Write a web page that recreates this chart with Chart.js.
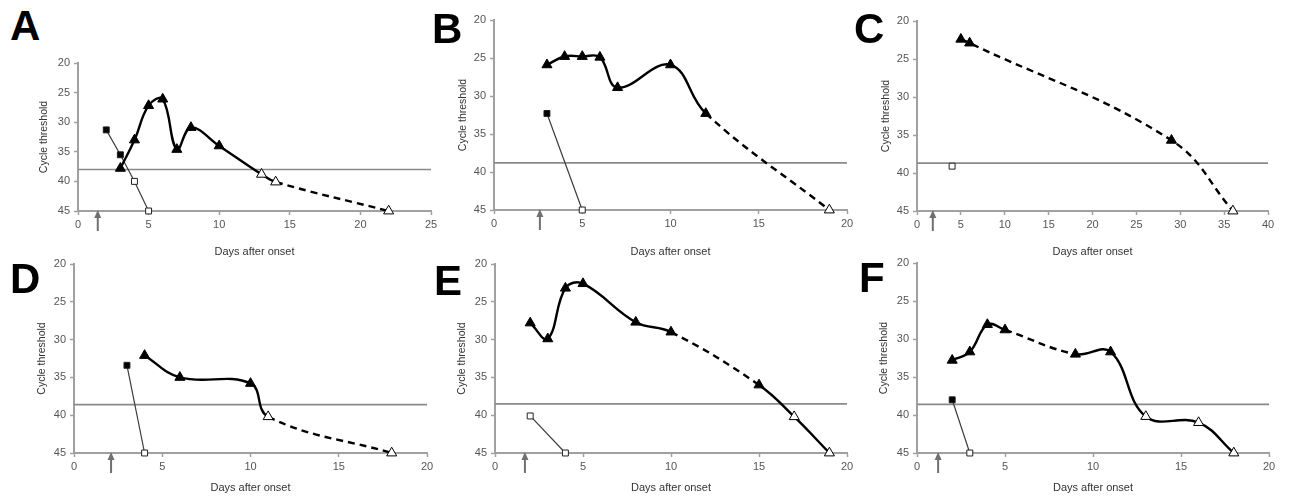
<!DOCTYPE html>
<html>
<head>
<meta charset="utf-8">
<script src="https://cdn.jsdelivr.net/npm/chart.js@4/dist/chart.umd.min.js"></script>
<style>
  body { margin: 0; background: #fff; width: 1289px; height: 500px; position: relative; overflow: hidden;
         font-family: "Liberation Sans", Arial, sans-serif; }
  canvas { position: absolute; }
  .lbl { position: absolute; font-size: 42px; font-weight: bold; line-height: 42px; color: #000; }
</style>
</head>
<body>
<script>
// Ct values (y axis is reversed: 20 at top, 45 at bottom)
const aDays = [3, 4, 5, 6, 7, 8, 10, 13, 14, 22];
const aCt = [37.8, 33.0, 27.2, 26.1, 34.6, 30.9, 34.0, 38.8, 40.1, 45];
const aSqDays = [2, 3, 4, 5];
const aSqCt = [31.3, 35.5, 40.0, 45];

const bDays = [3, 4, 5, 6, 7, 10, 12, 19];
const bCt = [25.9, 24.8, 24.8, 24.9, 28.9, 25.9, 32.3, 45];
const bSqDays = [3, 5];
const bSqCt = [32.3, 45];

const cDays = [5, 6, 29, 36];
const cCt = [22.4, 22.9, 35.7, 45];
const cSqDays = [4];
const cSqCt = [39.1];

const dDays = [4, 6, 10, 11, 18];
const dCt = [32.1, 35.0, 35.8, 40.2, 45];
const dSqDays = [3, 4];
const dSqCt = [33.4, 45];

const eDays = [2, 3, 4, 5, 8, 10, 15, 17, 19];
const eCt = [27.8, 29.9, 23.2, 22.6, 27.7, 29.0, 36.0, 40.2, 45];
const eSqDays = [2, 4];
const eSqCt = [40.1, 45];

const fDays = [2, 3, 4, 5, 9, 11, 13, 16, 18];
const fCt = [32.8, 31.7, 28.1, 28.8, 32.0, 31.7, 40.2, 41.0, 45];
const fSqDays = [2, 3];
const fSqCt = [38.0, 45];

const thresholds = [38.0, 38.8, 38.7, 38.6, 38.5, 38.6];
const arrowDays = [1.4, 2.6, 1.8, 2.1, 1.7, 1.2];
const xMaxes = [25, 20, 40, 20, 20, 20];
const letters = ['A', 'B', 'C', 'D', 'E', 'F'];

// page layout of each panel (plot box, axis title positions, letter position)
const panels = [
  { L: 78, R: 431, T: 63, B: 211, yt: 45, xt: 252, lx: 10, ly: 4.5, dash: [8] },
  { L: 494, R: 847, T: 20, B: 210, yt: 464, xt: 252, lx: 432, ly: 8, dash: [6] },
  { L: 917, R: 1268, T: 21, B: 211, yt: 887, xt: 252, lx: 854, ly: 8, dash: [0, 1, 2] },
  { L: 74, R: 427, T: 264, B: 453, yt: 43, xt: 488, lx: 10, ly: 258, dash: [3] },
  { L: 495, R: 847, T: 264, B: 453, yt: 463, xt: 488, lx: 434, ly: 260, dash: [5] },
  { L: 917, R: 1269, T: 263, B: 453, yt: 885, xt: 488, lx: 859, ly: 257, dash: [3] }
];
const triDays = [aDays, bDays, cDays, dDays, eDays, fDays];
const triCt = [aCt, bCt, cCt, dCt, eCt, fCt];
const sqDays = [aSqDays, bSqDays, cSqDays, dSqDays, eSqDays, fSqDays];
const sqCt = [aSqCt, bSqCt, cSqCt, dSqCt, eSqCt, fSqCt];

Chart.defaults.font.family = '"Liberation Sans", Arial, sans-serif';

const arrowPlugin = {
  id: 'arrow',
  afterDraw(chart, args, opts) {
    const x = chart.scales.x.getPixelForValue(opts.day);
    const b = chart.chartArea.bottom;
    const ctx = chart.ctx;
    ctx.save();
    ctx.strokeStyle = '#707070';
    ctx.fillStyle = '#707070';
    ctx.lineWidth = 2;
    ctx.beginPath();
    ctx.moveTo(x, b + 20);
    ctx.lineTo(x, b + 5);
    ctx.stroke();
    ctx.beginPath();
    ctx.moveTo(x, b - 1);
    ctx.lineTo(x - 3.5, b + 7);
    ctx.lineTo(x + 3.5, b + 7);
    ctx.closePath();
    ctx.fill();
    ctx.restore();
  }
};

const axisColor = '#a0a0a0';

panels.forEach(function (p, i) {
  const lbl = document.createElement('div');
  lbl.className = 'lbl';
  lbl.textContent = letters[i];
  lbl.style.left = p.lx + 'px';
  lbl.style.top = p.ly + 'px';
  document.body.appendChild(lbl);

  const cl = Math.round(p.yt - 7), ct = p.T - 14, cr = p.R + 16, cb = Math.round(p.xt + 7);
  const w = cr - cl, h = cb - ct;
  const cv = document.createElement('canvas');
  cv.width = w; cv.height = h;
  cv.style.left = cl + 'px'; cv.style.top = ct + 'px';
  cv.style.width = w + 'px'; cv.style.height = h + 'px';
  document.body.appendChild(cv);

  const thr = thresholds[i];
  const xMax = xMaxes[i];
  const tri = triDays[i].map((d, k) => ({ x: d, y: triCt[i][k] }));
  const sq = sqDays[i].map((d, k) => ({ x: d, y: sqCt[i][k] }));
  const fillFor = (ctx) => (ctx.raw && ctx.raw.y > thr) ? '#ffffff' : '#000000';

  new Chart(cv, {
    type: 'scatter',
    data: {
      datasets: [
        {
          data: [{ x: 0, y: thr }, { x: xMax, y: thr }],
          showLine: true, borderColor: '#8a8a8a', borderWidth: 1.6, pointRadius: 0, clip: false, order: 3
        },
        {
          data: sq,
          showLine: true, borderColor: '#3c3c3c', borderWidth: 1.2,
          pointStyle: 'rect', pointRadius: 4.2, pointBorderWidth: 1, pointBorderColor: '#222',
          pointBackgroundColor: fillFor, clip: false, order: 2
        },
        {
          data: tri,
          showLine: true, borderColor: '#000', borderWidth: 2.4, tension: 0.4,
          pointStyle: 'triangle', pointRadius: 5.8, pointBorderWidth: 1, pointBorderColor: '#000',
          pointBackgroundColor: fillFor, clip: false, order: 1,
          segment: { borderDash: (ctx) => p.dash.includes(ctx.p0DataIndex) ? [7, 5] : undefined }
        }
      ]
    },
    options: {
      responsive: false,
      animation: false,
      layout: { padding: { top: p.T - ct, right: cr - p.R, left: 0, bottom: 0 } },
      plugins: { legend: { display: false }, tooltip: { enabled: false }, arrow: { day: arrowDays[i] } },
      scales: {
        x: {
          type: 'linear', min: 0, max: xMax,
          ticks: { stepSize: 5, color: '#555', font: { size: 11 }, padding: 3 },
          grid: { drawOnChartArea: false, tickLength: 4, tickColor: axisColor, tickWidth: 1.5 },
          border: { color: axisColor, width: 2 },
          title: { display: true, text: 'Days after onset', color: '#333', font: { size: 11 }, padding: 0 },
          afterFit: (s) => { s.height = cb - p.B; }
        },
        y: {
          min: 20, max: 45, reverse: true,
          ticks: { stepSize: 5, color: '#555', font: { size: 11 }, padding: 4 },
          grid: { drawOnChartArea: false, tickLength: 4, tickColor: axisColor, tickWidth: 1.5 },
          border: { color: axisColor, width: 2 },
          title: { display: true, text: 'Cycle threshold', color: '#333', font: { size: 10.5 }, padding: 0 },
          afterFit: (s) => { s.width = p.L - cl; }
        }
      }
    },
    plugins: [arrowPlugin]
  });
});
</script>
</body>
</html>
